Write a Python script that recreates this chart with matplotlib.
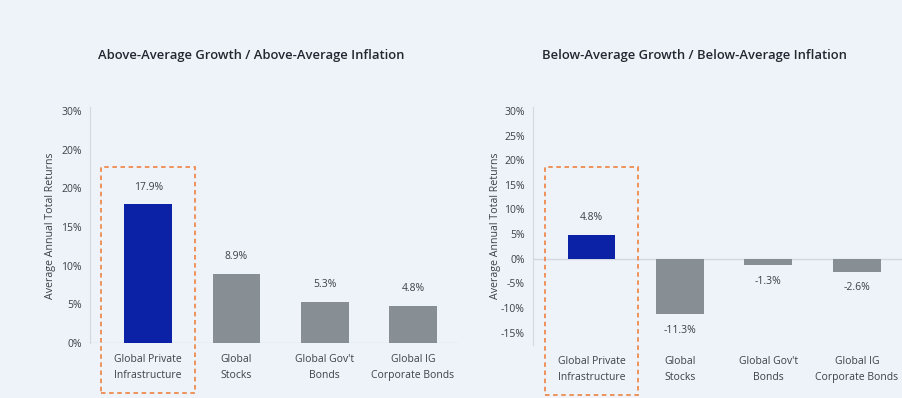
import matplotlib.pyplot as plt
from matplotlib.patches import Rectangle
import matplotlib.transforms as mtransforms

plt.rcParams['font.family'] = ['Open Sans', 'DejaVu Sans']

categories = ["Global Private\nInfrastructure", "Global\nStocks",
              "Global Gov't\nBonds", "Global IG\nCorporate Bonds"]
above_values = [17.9, 8.9, 5.3, 4.8]
below_values = [4.8, -11.3, -1.3, -2.6]

above_ticks = [0, 5, 10, 15, 20, 25, 30]
# the source chart labels the 25% tick as "20%"
above_tick_labels = ["0%", "5%", "10%", "15%", "20%", "20%", "30%"]
below_ticks = [-15, -10, -5, 0, 5, 10, 15, 20, 25, 30]
below_tick_labels = ["%d%%" % t for t in below_ticks]

bg = "#eef2f9"
blue = "#0b22a6"
gray = "#878e94"
orange = "#ee8a4f"
text_col = "#3c4148"

fig = plt.figure(figsize=(9.03, 3.98), dpi=100, facecolor=bg)
W, H = 903, 398


def add_ax(x0, x1, y_top, y_bot):
    return fig.add_axes([x0 / W, 1 - y_bot / H, (x1 - x0) / W, (y_bot - y_top) / H])


ax1 = add_ax(90, 458, 107, 343)
ax2 = add_ax(533, 902, 107, 345)


def draw(ax, values, ticks, labels, ylim, box_top):
    ax.set_facecolor(bg)
    x = range(len(values))
    colors = [blue] + [gray] * (len(values) - 1)
    ax.bar(x, values, width=0.54, color=colors, zorder=3)
    ax.set_xlim(-0.66, 3.51)
    ax.set_ylim(*ylim)
    ax.set_yticks(ticks)
    ax.set_yticklabels(labels, fontsize=7.5, color=text_col)
    ax.set_xticks(list(x))
    ax.set_xticklabels(categories, fontsize=7.5, color=text_col, linespacing=1.6)
    ax.tick_params(axis='both', length=0, pad=6)
    ax.tick_params(axis='x', pad=8)
    for s in ["top", "right", "bottom"]:
        ax.spines[s].set_visible(False)
    ax.spines["left"].set_color("#d3d8e0")
    ax.axhline(0, color="#d3d8e0", lw=1, zorder=1)
    ax.set_ylabel("Average Annual Total Returns", fontsize=7.7, color=text_col)
    span = ylim[1] - ylim[0]
    for xi, v in zip(x, values):
        if v >= 0:
            ax.text(xi, v + span * 0.05, "%.1f%%" % v, ha="center", va="bottom",
                    fontsize=7.5, color=text_col)
        else:
            ax.text(xi, v - span * 0.045, "%.1f%%" % v, ha="center", va="top",
                    fontsize=7.5, color=text_col)
    trans = mtransforms.blended_transform_factory(ax.transData, ax.transAxes)
    ax.add_patch(Rectangle((-0.53, -0.21), 1.06, box_top + 0.21, transform=trans,
                           fill=False, ec=orange, lw=1.3, ls=(0, (2.5, 2)),
                           clip_on=False, zorder=4))


draw(ax1, above_values, above_ticks, above_tick_labels, (0, 30.5), 0.745)
draw(ax2, below_values, below_ticks, below_tick_labels, (-17.5, 30.8), 0.748)
ax1.yaxis.set_label_coords(-0.093, 0.496)
ax2.yaxis.set_label_coords(-0.088, 0.5)

fig.text(251 / W, 1 - 56 / H, "Above-Average Growth / Above-Average Inflation",
         ha="center", va="center", fontsize=9.4, color="#222831", fontweight="semibold")
fig.text(694 / W, 1 - 56 / H, "Below-Average Growth / Below-Average Inflation",
         ha="center", va="center", fontsize=9.4, color="#222831", fontweight="semibold")

fig.savefig("out.png", dpi=100, facecolor=bg)
